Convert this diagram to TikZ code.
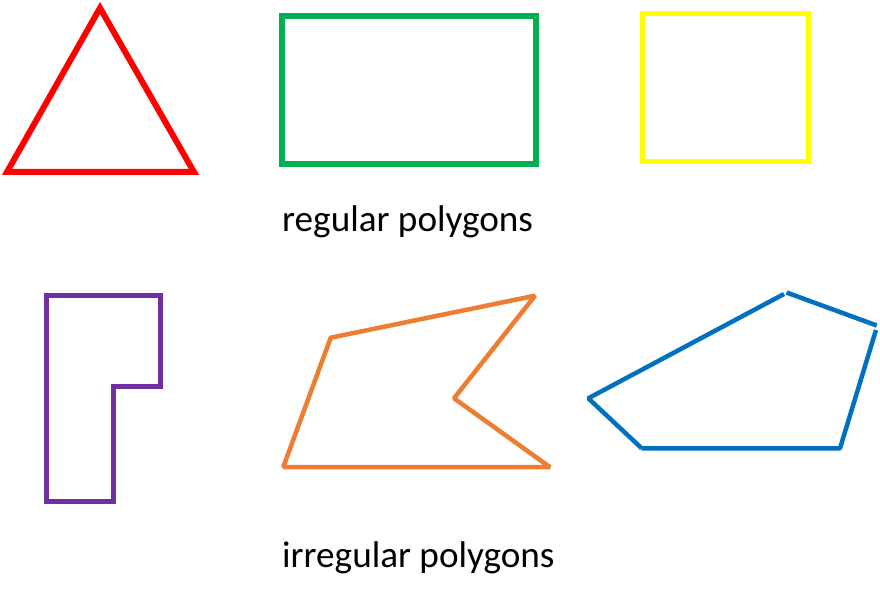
\documentclass[tikz,border=0pt]{standalone}
\usepackage{fontspec}
\setmainfont{Carlito}
\definecolor{tri}{HTML}{FF0000}
\definecolor{grn}{HTML}{00B050}
\definecolor{yel}{HTML}{FFFF00}
\definecolor{pur}{HTML}{7030A0}
\definecolor{org}{HTML}{ED7D31}
\definecolor{blu}{HTML}{0070C0}
\tikzset{
  thickshape/.style={line width=6pt, line join=miter},
  thinshape/.style={line width=4.5pt, line join=miter},
  caption/.style={anchor=base west, inner sep=0pt, font=\fontsize{37.2}{44}\selectfont}
}
\begin{document}
\begin{tikzpicture}[x=1pt,y=-1pt]
\useasboundingbox (0,0) rectangle (880,601);
% regular polygons
\draw[thickshape, tri] (100,8) -- (7,172) -- (194,172) -- cycle;
\draw[thickshape, grn] (282,16) rectangle (536,164);
\draw[line width=5pt, yel] (642.5,13.5) rectangle (808.5,161.5);
\node[caption] (reg) at (282,231.5) {regular polygons};
% irregular polygons
\draw[thinshape, pur] (46.5,295.5) -- (160.5,295.5) -- (160.5,386.5) -- (113.5,386.5) -- (113.5,501.5) -- (46.5,501.5) -- cycle;
\draw[thinshape, org, line join=bevel] (330.7,337.7) -- (535,295.7) -- (454,398.3) -- (550,467.2) -- (283.3,467) -- cycle;
\draw[thinshape, blu, line join=bevel] (641.7,448.3) -- (588.3,398.3) -- (784,294);
\draw[thinshape, blu] (786.5,292.5) -- (876.7,325.5);
\draw[thinshape, blu, line join=bevel] (876,330) -- (840,448.3) -- (641.7,448.3);
\node[caption] (irr) at (282,567) {irregular polygons};
\end{tikzpicture}
\end{document}
